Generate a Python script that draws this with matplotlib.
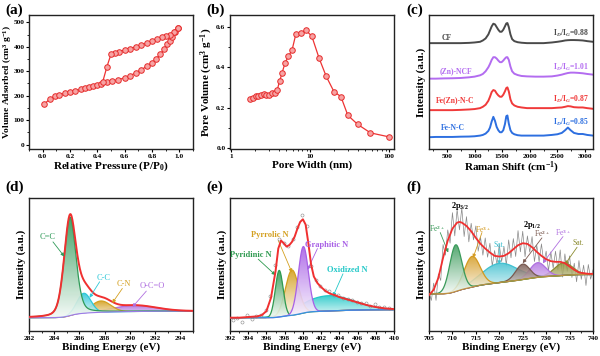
import numpy as np
import matplotlib
matplotlib.use("Agg")
import matplotlib.pyplot as plt
from matplotlib.colors import LinearSegmentedColormap
from matplotlib.patches import Polygon
from matplotlib.ticker import MultipleLocator

plt.rcParams["font.family"] = ["Liberation Serif", "DejaVu Serif"]
plt.rcParams["font.weight"] = "bold"
plt.rcParams["axes.labelweight"] = "bold"
plt.rcParams["mathtext.fontset"] = "custom"
plt.rcParams["mathtext.rm"] = "Liberation Serif:bold"
plt.rcParams["mathtext.it"] = "Liberation Serif:bold:italic"
plt.rcParams["mathtext.bf"] = "Liberation Serif:bold"

# (a) N2 isotherm
ads_p = [0.01, 0.05, 0.09, 0.12, 0.16, 0.20, 0.24, 0.28, 0.31, 0.34, 0.37, 0.40, 0.43,
         0.47, 0.51, 0.55, 0.60, 0.64, 0.68, 0.72, 0.76, 0.80, 0.83, 0.86, 0.89, 0.91,
         0.93, 0.95, 0.97, 0.99]
ads_v = [165, 185, 198, 203, 210, 215, 220, 226, 231, 235, 239, 244, 249,
         255, 260, 265, 273, 282, 293, 305, 320, 335, 350, 370, 390, 410,
         425, 440, 460, 478]
des_p = [0.99, 0.96, 0.93, 0.90, 0.87, 0.84, 0.80, 0.76, 0.72, 0.68, 0.64, 0.60,
         0.56, 0.53, 0.50, 0.47, 0.44]
des_v = [478, 462, 450, 445, 438, 430, 423, 415, 407, 400, 393, 387,
         380, 375, 370, 318, 258]

# (b) pore size distribution
pore_w = [1.75, 1.9, 2.05, 2.2, 2.4, 2.6, 2.8, 3.0, 3.3, 3.6, 3.85, 4.1, 4.4, 4.8,
          5.3, 5.9, 6.6, 7.6, 8.8, 10.5, 13, 16, 20, 24.5, 30, 40, 58, 100]
pore_v = [0.245, 0.248, 0.26, 0.258, 0.262, 0.27, 0.262, 0.262, 0.275, 0.275, 0.29,
          0.33, 0.37, 0.42, 0.455, 0.485, 0.565, 0.57, 0.585, 0.555, 0.445, 0.355,
          0.28, 0.255, 0.162, 0.117, 0.075, 0.055]

# (c) Raman spectra (offset, a.u.)
raman_x = [175, 300, 450, 600, 750, 900, 1000, 1100, 1150, 1200, 1250, 1280, 1310, 1340,
           1370, 1400, 1430, 1460, 1490, 1520, 1550, 1575, 1595, 1620, 1650, 1680, 1720,
           1780, 1850, 1950, 2100, 2250, 2400, 2500, 2580, 2640, 2690, 2740, 2800, 2880,
           2960, 3040, 3145]
raman_cf = [0.79, 0.79, 0.79, 0.79, 0.79, 0.792, 0.795, 0.80, 0.81, 0.825, 0.855, 0.885,
            0.915, 0.935, 0.93, 0.91, 0.89, 0.875, 0.875, 0.89, 0.915, 0.937, 0.94, 0.91,
            0.855, 0.82, 0.805, 0.797, 0.793, 0.79, 0.79, 0.79, 0.795, 0.80, 0.805, 0.81,
            0.812, 0.813, 0.813, 0.812, 0.81, 0.805, 0.80]
raman_zncf = [0.525, 0.525, 0.527, 0.528, 0.53, 0.535, 0.54, 0.55, 0.56, 0.58, 0.61, 0.635,
              0.665, 0.685, 0.685, 0.675, 0.66, 0.648, 0.648, 0.66, 0.675, 0.685, 0.685,
              0.665, 0.615, 0.58, 0.562, 0.552, 0.545, 0.542, 0.54, 0.54, 0.542, 0.548,
              0.555, 0.562, 0.567, 0.57, 0.57, 0.568, 0.565, 0.56, 0.555]
raman_feznc = [0.29, 0.29, 0.29, 0.29, 0.292, 0.295, 0.298, 0.305, 0.315, 0.33, 0.36, 0.39,
               0.425, 0.44, 0.435, 0.415, 0.40, 0.39, 0.39, 0.405, 0.43, 0.455, 0.46, 0.43,
               0.37, 0.34, 0.325, 0.315, 0.31, 0.305, 0.305, 0.305, 0.305, 0.308, 0.31,
               0.315, 0.32, 0.318, 0.312, 0.31, 0.31, 0.305, 0.30]
raman_fenc = [0.088, 0.09, 0.09, 0.09, 0.092, 0.093, 0.095, 0.10, 0.105, 0.115, 0.135, 0.16,
              0.205, 0.24, 0.21, 0.165, 0.14, 0.125, 0.125, 0.14, 0.185, 0.245, 0.25, 0.19,
              0.14, 0.12, 0.11, 0.103, 0.10, 0.10, 0.10, 0.10, 0.105, 0.11, 0.12, 0.14,
              0.16, 0.14, 0.12, 0.112, 0.112, 0.105, 0.10]
raman_names = ["CF", "(Zn)-NCF", "Fe(Zn)-N-C", "Fe-N-C"]
raman_ratios = ["0.88", "1.01", "0.87", "0.85"]

# (d) C 1s fit: centre, height, fwhm, lorentz fraction
c1s_names = ["C=C", "C-C", "C-N", "O-C=O"]
c1s_center = [285.25, 286.35, 287.7, 290.3]
c1s_height = [0.74, 0.15, 0.085, 0.045]
c1s_fwhm = [1.1, 1.3, 1.8, 4.0]
c1s_eta = [0.3, 0.0, 0.0, 0.0]
c1s_bg = [0.10, 0.15]

# (e) N 1s fit
n1s_names = ["Pyridinic N", "Pyrrolic N", "Graphitic N", "Oxidized N"]
n1s_center = [397.4, 398.8, 400.05, 402.8]
n1s_height = [0.35, 0.34, 0.50, 0.115]
n1s_fwhm = [1.0, 1.7, 1.3, 6.5]
n1s_bg = [0.10, 0.16]
n1s_env_x = [392, 393, 394, 395, 395.5, 396, 396.5, 397, 397.3, 397.6, 397.9, 398.2, 398.5,
             398.8, 399.1, 399.4, 399.7, 400.0, 400.3, 400.6, 400.9, 401.2, 401.6, 402,
             402.5, 403, 403.5, 404, 405, 406, 407, 408, 409, 410]
n1s_env_y = [0.10, 0.10, 0.105, 0.11, 0.12, 0.15, 0.25, 0.45, 0.62, 0.68, 0.66, 0.635, 0.645,
             0.67, 0.71, 0.77, 0.82, 0.84, 0.80, 0.66, 0.50, 0.41, 0.36, 0.33, 0.30, 0.28,
             0.27, 0.255, 0.235, 0.215, 0.195, 0.18, 0.17, 0.165]
n1s_raw_x = [392.3, 392.8, 393.3, 393.9, 394.4, 394.9, 395.4, 395.9, 396.4, 396.9, 397.4,
             397.9, 398.4, 398.9, 399.4, 399.9, 400.4, 400.9, 401.4, 401.9, 402.4, 402.9,
             403.4, 403.9, 404.4, 404.9, 405.4, 405.9, 406.4, 406.9, 407.4, 407.9, 408.4,
             408.9, 409.4]
n1s_raw_y = [0.08, 0.10, 0.07, 0.12, 0.09, 0.11, 0.12, 0.16, 0.26, 0.50, 0.69, 0.66, 0.64,
             0.69, 0.78, 0.87, 0.79, 0.49, 0.38, 0.34, 0.31, 0.30, 0.27, 0.27, 0.25, 0.24,
             0.23, 0.22, 0.21, 0.21, 0.19, 0.20, 0.18, 0.18, 0.17]

# (f) Fe 2p fit
fe_names = ["Fe$^{2+}$", "Fe$^{3+}$", "Sat.", "Fe$^{2+}$", "Fe$^{3+}$", "Sat."]
fe_center = [710.7, 714.2, 720.0, 725.0, 728.2, 733.7]
fe_height = [0.35, 0.23, 0.145, 0.115, 0.11, 0.095]
fe_fwhm = [3.0, 4.0, 9.0, 3.5, 4.0, 4.5]
fe_bg = [0.28, 0.425]
fe_env_x = [705, 706, 707, 708, 709, 710, 711, 711.5, 712, 713, 714, 715, 716, 717, 718,
            719, 720, 721, 722, 723, 724, 725, 726, 727, 728, 729, 730, 731, 732, 733, 734,
            735, 736, 737, 738, 739, 740]
fe_env_y = [0.27, 0.31, 0.40, 0.55, 0.68, 0.77, 0.815, 0.82, 0.815, 0.79, 0.75, 0.70, 0.655,
            0.62, 0.59, 0.565, 0.56, 0.565, 0.585, 0.615, 0.645, 0.66, 0.655, 0.63, 0.595,
            0.565, 0.54, 0.525, 0.52, 0.52, 0.51, 0.485, 0.46, 0.44, 0.435, 0.43, 0.43]
fe_raw_x = [705.0 + 0.5 * i for i in range(71)]
fe_raw_y = [0.29, 0.23, 0.36, 0.23, 0.43, 0.38, 0.65, 0.57, 0.76, 0.66, 0.89, 0.715, 0.915,
            0.76, 0.925, 0.71, 0.86, 0.67, 0.81, 0.685, 0.79, 0.60, 0.705, 0.57, 0.70, 0.555,
            0.66, 0.488, 0.605, 0.502, 0.65, 0.522, 0.635, 0.495, 0.685, 0.55, 0.695, 0.56,
            0.755, 0.595, 0.75, 0.558, 0.715, 0.593, 0.71, 0.522, 0.645, 0.52, 0.655, 0.513,
            0.60, 0.452, 0.595, 0.472, 0.60, 0.46, 0.61, 0.405, 0.58, 0.448, 0.565, 0.402,
            0.51, 0.37, 0.53, 0.388, 0.495, 0.342, 0.50, 0.39, 0.46]

RED = "#ee3333"


def style_axes(ax, yticks=True):
    for s in ax.spines.values():
        s.set_linewidth(1.0)
        s.set_color("#222222")
    ax.tick_params(which="major", direction="out", length=2.5, width=0.8, labelsize=5.3, pad=0.8)
    ax.tick_params(which="minor", direction="out", length=1.5, width=0.6)
    if not yticks:
        ax.set_yticks([])


def peak(x, c, h, w, eta=0.0):
    g = np.exp(-4 * np.log(2) * ((x - c) / w) ** 2)
    lor = 1.0 / (1.0 + ((x - c) / (w / 2)) ** 2)
    return h * ((1 - eta) * g + eta * lor)


def shirley(x, comps, lo, hi):
    total = np.sum(comps, axis=0)
    cum = np.cumsum(total)
    return lo + (hi - lo) * cum / cum[-1]


def grad_fill(ax, x, base, top, color, alpha=0.9, z=2):
    verts = np.column_stack([np.r_[x, x[::-1]], np.r_[top, base[::-1]]])
    poly = Polygon(verts, closed=True, facecolor="none", edgecolor="none")
    ax.add_patch(poly)
    cmap = LinearSegmentedColormap.from_list("g", ["white", color])
    grad = np.linspace(0.05, 1, 256).reshape(-1, 1)
    im = ax.imshow(grad, extent=[x.min(), x.max(), base.min(), top.max()], origin="lower",
                   aspect="auto", cmap=cmap, alpha=alpha, zorder=z, vmin=0, vmax=1)
    im.set_clip_path(poly)
    ax.plot(x, top, color=color, lw=0.9, zorder=z + 0.1)


def arrow(ax, start, end, color):
    ax.annotate("", xy=end, xytext=start,
                arrowprops=dict(arrowstyle="-|>", color=color, lw=0.6,
                                mutation_scale=5, shrinkA=0, shrinkB=0), zorder=6)


fig = plt.figure(figsize=(6.0, 3.56), dpi=100)
lefts = [29 / 600, 230 / 600, 429 / 600]
w = 164 / 600
top_b, top_h = 1 - 149 / 356, 134 / 356
bot_b, bot_h = 1 - 331 / 356, 133 / 356
axa = fig.add_axes([lefts[0], top_b, w, top_h])
axb = fig.add_axes([lefts[1], top_b, w, top_h])
axc = fig.add_axes([lefts[2], top_b, w, top_h])
axd = fig.add_axes([lefts[0], bot_b, w, bot_h])
axe = fig.add_axes([lefts[1], bot_b, w, bot_h])
axf = fig.add_axes([lefts[2], bot_b, w, bot_h])

for lab, x0, y0 in [("(a)", 5, 14), ("(b)", 206, 14), ("(c)", 406, 14),
                    ("(d)", 5, 191), ("(e)", 206, 191), ("(f)", 406, 191)]:
    fig.text(x0 / 600, 1 - y0 / 356, lab, fontsize=11, fontweight="bold")

# (a)
mk = dict(marker="o", color=RED, mfc="#f7a3a3", mec="#e52b2b", ms=4, mew=0.7, lw=0.9)
axa.plot(ads_p, ads_v, **mk)
axa.plot(des_p, des_v, **mk)
axa.set_xlim(-0.1, 1.1)
axa.set_ylim(-18, 530)
axa.xaxis.set_minor_locator(MultipleLocator(0.1))
axa.yaxis.set_major_locator(MultipleLocator(100))
axa.yaxis.set_minor_locator(MultipleLocator(50))
axa.set_xticks([0, 0.2, 0.4, 0.6, 0.8, 1.0], ["0.0", "0.2", "0.4", "0.6", "0.8", "1.0"])
axa.set_xlabel("Relative Pressure (P/P$_0$)", fontsize=8, labelpad=1)
axa.set_ylabel("Volume Adsorbed (cm$^3$ g$^{-1}$)", fontsize=6.8)
axa.yaxis.set_label_coords(-0.092, 0.5)
style_axes(axa)

# (b)
axb.plot(pore_w, pore_v, **mk)
axb.set_xscale("log")
axb.set_xlim(0.97, 115)
axb.set_ylim(-0.005, 0.66)
axb.set_xticks([1, 10, 100], ["1", "10", "100"])
axb.yaxis.set_minor_locator(MultipleLocator(0.1))
axb.set_yticks([0, 0.2, 0.4, 0.6], ["0.0", "0.2", "0.4", "0.6"])
axb.set_xlabel("Pore Width (nm)", fontsize=8, labelpad=1)
axb.set_ylabel("Pore Volume (cm$^3$ g$^{-1}$)", fontsize=8, labelpad=1)
style_axes(axb)

# (c)
r_colors = ["#4a4a4a", "#b36cf0", "#f03a3a", "#2d6fe0"]
r_series = [raman_cf, raman_zncf, raman_feznc, raman_fenc]
name_pos = [(500, 0.83), (660, 0.58), (640, 0.365), (610, 0.16)]
ratio_y = [0.865, 0.61, 0.37, 0.195]
for ys, col, nm, (nx, ny), ry, rt in zip(r_series, r_colors, raman_names, name_pos, ratio_y,
                                         raman_ratios):
    axc.plot(raman_x, ys, color=col, lw=1.4)
    axc.text(nx, ny, nm, color=col, fontsize=5.5, ha="center", va="center")
    axc.text(3060, ry, "I$_D$/I$_G$=" + rt, color=col, fontsize=5.5, ha="right", va="center")
axc.set_xlim(175, 3145)
axc.set_ylim(0, 1)
axc.xaxis.set_major_locator(MultipleLocator(500))
axc.xaxis.set_minor_locator(MultipleLocator(250))
axc.set_xlabel("Raman Shift (cm$^{-1}$)", fontsize=8, labelpad=1)
axc.set_ylabel("Intensity (a.u.)", fontsize=8, labelpad=2)
style_axes(axc, yticks=False)

# (d)
xd = np.linspace(282, 295, 700)
comps_d = np.array([peak(xd, c, h, f, e) for c, h, f, e in
                    zip(c1s_center, c1s_height, c1s_fwhm, c1s_eta)])
bg_d = shirley(xd, comps_d, *c1s_bg)
d_colors = ["#2f9a58", "#2fc8d8", "#d4a020", "#b070e0"]
for comp, col, z in zip(comps_d[::-1], d_colors[::-1], [2, 3, 4, 5]):
    grad_fill(axd, xd, bg_d, bg_d + comp, col, z=z)
axd.plot(xd, bg_d, color="#9a7be6", lw=0.8, zorder=5.5)
axd.plot(xd, bg_d + comps_d.sum(axis=0), color="#f03030", lw=1.4, zorder=6)
d_text = [(283.5, 0.71), (287.9, 0.40), (289.5, 0.355), (291.8, 0.335)]
d_arr = [((283.9, 0.67), (284.8, 0.56)), ((287.6, 0.37), (286.8, 0.25)),
         ((289.4, 0.32), (288.6, 0.21)), ((291.3, 0.30), (290.2, 0.18))]
for nm, col, (tx, ty), (s, e) in zip(c1s_names, d_colors, d_text, d_arr):
    axd.text(tx, ty, nm, color=col, fontsize=6, fontweight="normal", ha="center", va="center")
    arrow(axd, s, e, col)
axd.set_xlim(282, 295)
axd.set_ylim(0, 1)
axd.xaxis.set_major_locator(MultipleLocator(2))
axd.xaxis.set_minor_locator(MultipleLocator(1))
axd.set_xlabel("Binding Energy (eV)", fontsize=8, labelpad=1)
axd.set_ylabel("Intensity (a.u.)", fontsize=8, labelpad=2)
style_axes(axd, yticks=False)

# (e)
xe = np.linspace(392, 410, 700)
comps_e = np.array([peak(xe, c, h, f) for c, h, f in zip(n1s_center, n1s_height, n1s_fwhm)])
bg_e = shirley(xe, comps_e, *n1s_bg)
e_colors = ["#2f9a50", "#d4a020", "#a860e6", "#22c8c8"]
order = [3, 1, 0, 2]
for z, i in enumerate(order):
    grad_fill(axe, xe, bg_e, bg_e + comps_e[i], e_colors[i], z=2 + z)
axe.plot(xe, bg_e, color="#3a8ee0", lw=0.9, zorder=6)
axe.plot(n1s_raw_x, n1s_raw_y, "o", ms=2.2, mfc="none", mec="#888888", mew=0.4, zorder=6.5)
axe.plot(n1s_env_x, n1s_env_y, color="#f03030", lw=1.4, zorder=7)
e_text = [(394.3, 0.57), (396.4, 0.72), (402.6, 0.65), (404.9, 0.46)]
e_arr = [((395.1, 0.54), (397.0, 0.42)), ((397.3, 0.68), (398.8, 0.44)),
         ((401.6, 0.62), (400.5, 0.46)), ((404.4, 0.43), (403.3, 0.26))]
for nm, col, (tx, ty), (s, e) in zip(n1s_names, e_colors, e_text, e_arr):
    axe.text(tx, ty, nm, color=col, fontsize=6, ha="center", va="center", zorder=8)
    arrow(axe, s, e, col)
axe.set_xlim(392, 410)
axe.set_ylim(0, 1)
axe.xaxis.set_major_locator(MultipleLocator(2))
axe.xaxis.set_minor_locator(MultipleLocator(1))
axe.set_xlabel("Binding Energy (eV)", fontsize=8, labelpad=1)
axe.set_ylabel("Intensity (a.u.)", fontsize=8, labelpad=2)
style_axes(axe, yticks=False)

# (f)
xf = np.linspace(705, 740, 700)
comps_f = np.array([peak(xf, c, h, f) for c, h, f in zip(fe_center, fe_height, fe_fwhm)])
bg_f = shirley(xf, comps_f, *fe_bg)
f_colors = ["#3a9a5a", "#d49a20", "#40c0d0", "#7a5a50", "#b070e0", "#8c8c30"]
axf.plot(fe_raw_x, fe_raw_y, color="#8a8a8a", lw=0.5, zorder=1.5)
for z, i in enumerate([2, 5, 4, 3, 1, 0]):
    grad_fill(axf, xf, bg_f, bg_f + comps_f[i], f_colors[i], alpha=0.85, z=2 + z)
axf.plot(xf, bg_f, color="#c09040", lw=0.8, zorder=8)
axf.plot(fe_env_x, fe_env_y, color="#f03030", lw=1.3, zorder=9)
f_text = [(706.8, 0.77), (716.5, 0.76), (720.0, 0.65), (729.1, 0.73), (733.6, 0.74),
          (736.8, 0.66)]
f_arr = [((707.4, 0.74), (709.1, 0.59)), ((716.3, 0.74), (714.4, 0.55)),
         ((720.0, 0.62), (720.0, 0.50)), ((729.1, 0.70), (725.0, 0.51)),
         ((733.6, 0.71), (729.3, 0.51)), ((736.6, 0.63), (734.0, 0.50))]
for nm, col, (tx, ty), (s, e) in zip(fe_names, f_colors, f_text, f_arr):
    axf.text(tx, ty, nm, color=col, fontsize=5.5, fontweight="normal", ha="center",
             va="center", zorder=10)
    arrow(axf, s, e, col)
axf.text(711.6, 0.94, "2p$_{3/2}$", fontsize=6, ha="center", va="center")
axf.text(727.0, 0.80, "2p$_{1/2}$", fontsize=6, ha="center", va="center")
axf.set_xlim(705, 740)
axf.set_ylim(0, 1)
axf.xaxis.set_major_locator(MultipleLocator(5))
axf.xaxis.set_minor_locator(MultipleLocator(2.5))
axf.set_xlabel("Binding Energy (eV)", fontsize=8, labelpad=1)
axf.set_ylabel("Intensity (a.u.)", fontsize=8, labelpad=2)
style_axes(axf, yticks=False)

fig.savefig("out.png", dpi=100)
